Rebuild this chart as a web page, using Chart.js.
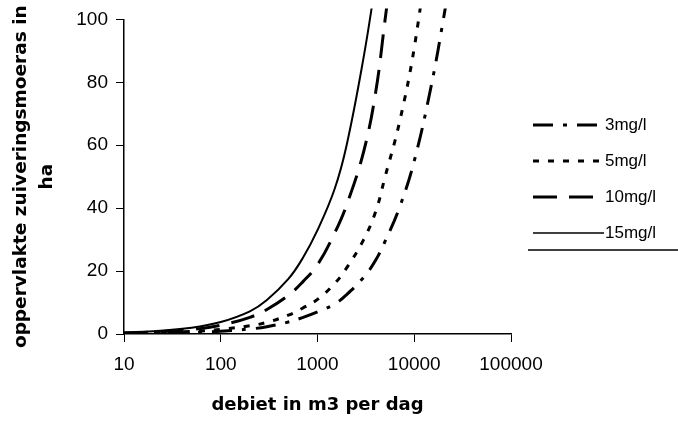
<!DOCTYPE html>
<html>
<head>
<meta charset="utf-8">
<script src="https://cdn.jsdelivr.net/npm/chart.js@4/dist/chart.umd.min.js"></script>
<style>
  html,body{margin:0;padding:0;background:#fff;}
  #wrap{width:678px;height:423px;}
</style>
</head>
<body>
<div id="wrap"><canvas id="chart" width="678" height="423"></canvas></div>
<script>
/* oppervlakte zuiveringsmoeras vs debiet */
const debiet = [10,20,50,100,200,300,500,700,1000,1500,2000,3000,4000,5000,7000,10000,15000,20000,25000];
const mg3  = [0.1,0.2,0.5,0.9,1.6,2.3,3.8,5.2,7,9.5,12.5,18,23.5,29.5,40,55,79,100,118];
const mg5  = [0.2,0.4,0.8,1.5,2.6,3.7,6,8.2,11,16,21,30,39,50,67,91,130,null,null];
const mg10 = [0.3,0.6,1.4,2.8,5.3,7.8,12.3,16.5,22,32,41,58,77,100,135,null,null,null,null];
const mg15 = [0.5,0.9,2,3.8,7.2,10.8,17.5,24,33,46,60,88,112,null,null,null,null,null,null];
const seriesNames = ['3mg/l','5mg/l','10mg/l','15mg/l'];
const xTicks  = [10,100,1000,10000,100000];
const xLabels = ['10','100','1000','10000','100000'];
const yTicks  = [0,20,40,60,80,100];

const pts = arr => debiet.map((q,i)=>({x:q, y:arr[i]}));

const styles = [
  {dash:[20,10,4,10], w:3},
  {dash:[6,9],        w:3},
  {dash:[24,12],      w:3},
  {dash:[],           w:2}
];

const datasets = [mg3,mg5,mg10,mg15].map((arr,i)=>({
  label: seriesNames[i],
  data: pts(arr),
  borderColor:'#000',
  backgroundColor:'#000',
  borderWidth: styles[i].w,
  borderDash: styles[i].dash,
  pointRadius:0,
  tension:0.4,
  spanGaps:false,
  clip:{left:0,top:11,right:0,bottom:0}
}));

// legend drawn at the right like the original
const sideLegend = {
  id:'sideLegend',
  afterDraw(chart){
    const ctx = chart.ctx;
    ctx.save();
    chart.data.datasets.forEach((ds,i)=>{
      const y = 125 + i*36;
      ctx.beginPath();
      ctx.setLineDash(ds.borderDash);
      ctx.lineWidth = ds.borderDash.length ? ds.borderWidth : 1.3;
      ctx.strokeStyle = '#000';
      ctx.moveTo(533,y); ctx.lineTo(604,y);
      ctx.stroke();
      ctx.setLineDash([]);
      ctx.fillStyle = '#000';
      ctx.font = '17px "Liberation Sans", Arial, sans-serif';
      ctx.textBaseline = 'middle';
      ctx.textAlign = 'left';
      ctx.fillText(ds.label, 605, y);
    });
    ctx.beginPath();
    ctx.lineWidth = 1.5;
    ctx.moveTo(528,250); ctx.lineTo(678,250);
    ctx.stroke();
    ctx.restore();
  }
};

const tickFont = {family:'"Liberation Sans", Arial, sans-serif', size:19};
const titleFont = {family:'"DejaVu Sans", sans-serif', size:18, weight:'bold'};

new Chart(document.getElementById('chart'),{
  type:'line',
  data:{ datasets },
  plugins:[sideLegend],
  options:{
    responsive:false,
    animation:false,
    layout:{ padding:{left:0, top:18, right:167, bottom:3} },
    plugins:{ legend:{display:false}, tooltip:{enabled:false} },
    scales:{
      x:{
        type:'logarithmic', min:10, max:100000,
        afterBuildTicks: s => { s.ticks = xTicks.map(v=>({value:v})); },
        afterFit: s => { s.height = 86; },
        ticks:{ color:'#000', font:tickFont, padding:11, maxRotation:0,
          callback:(v,i)=> xLabels[i] },
        grid:{ drawOnChartArea:false, drawTicks:true, tickLength:8, color:'#000' },
        border:{ color:'#000', width:1.5 },
        title:{ display:true, text:'debiet in m3 per dag', color:'#000', font:titleFont, padding:{top:4,bottom:4} }
      },
      y:{
        min:0, max:100,
        afterBuildTicks: s => { s.ticks = yTicks.map(v=>({value:v})); },
        afterFit: s => { s.width = 124; },
        ticks:{ color:'#000', font:tickFont, padding:8 },
        grid:{ drawOnChartArea:false, drawTicks:true, tickLength:8, color:'#000' },
        border:{ color:'#000', width:1.5 },
        title:{ display:true, text:['oppervlakte zuiveringsmoeras in','ha'], color:'#000',
          font:{...titleFont, size:18.5, lineHeight:1.4}, padding:{top:8,bottom:2} }
      }
    }
  }
});
</script>
</body>
</html>
